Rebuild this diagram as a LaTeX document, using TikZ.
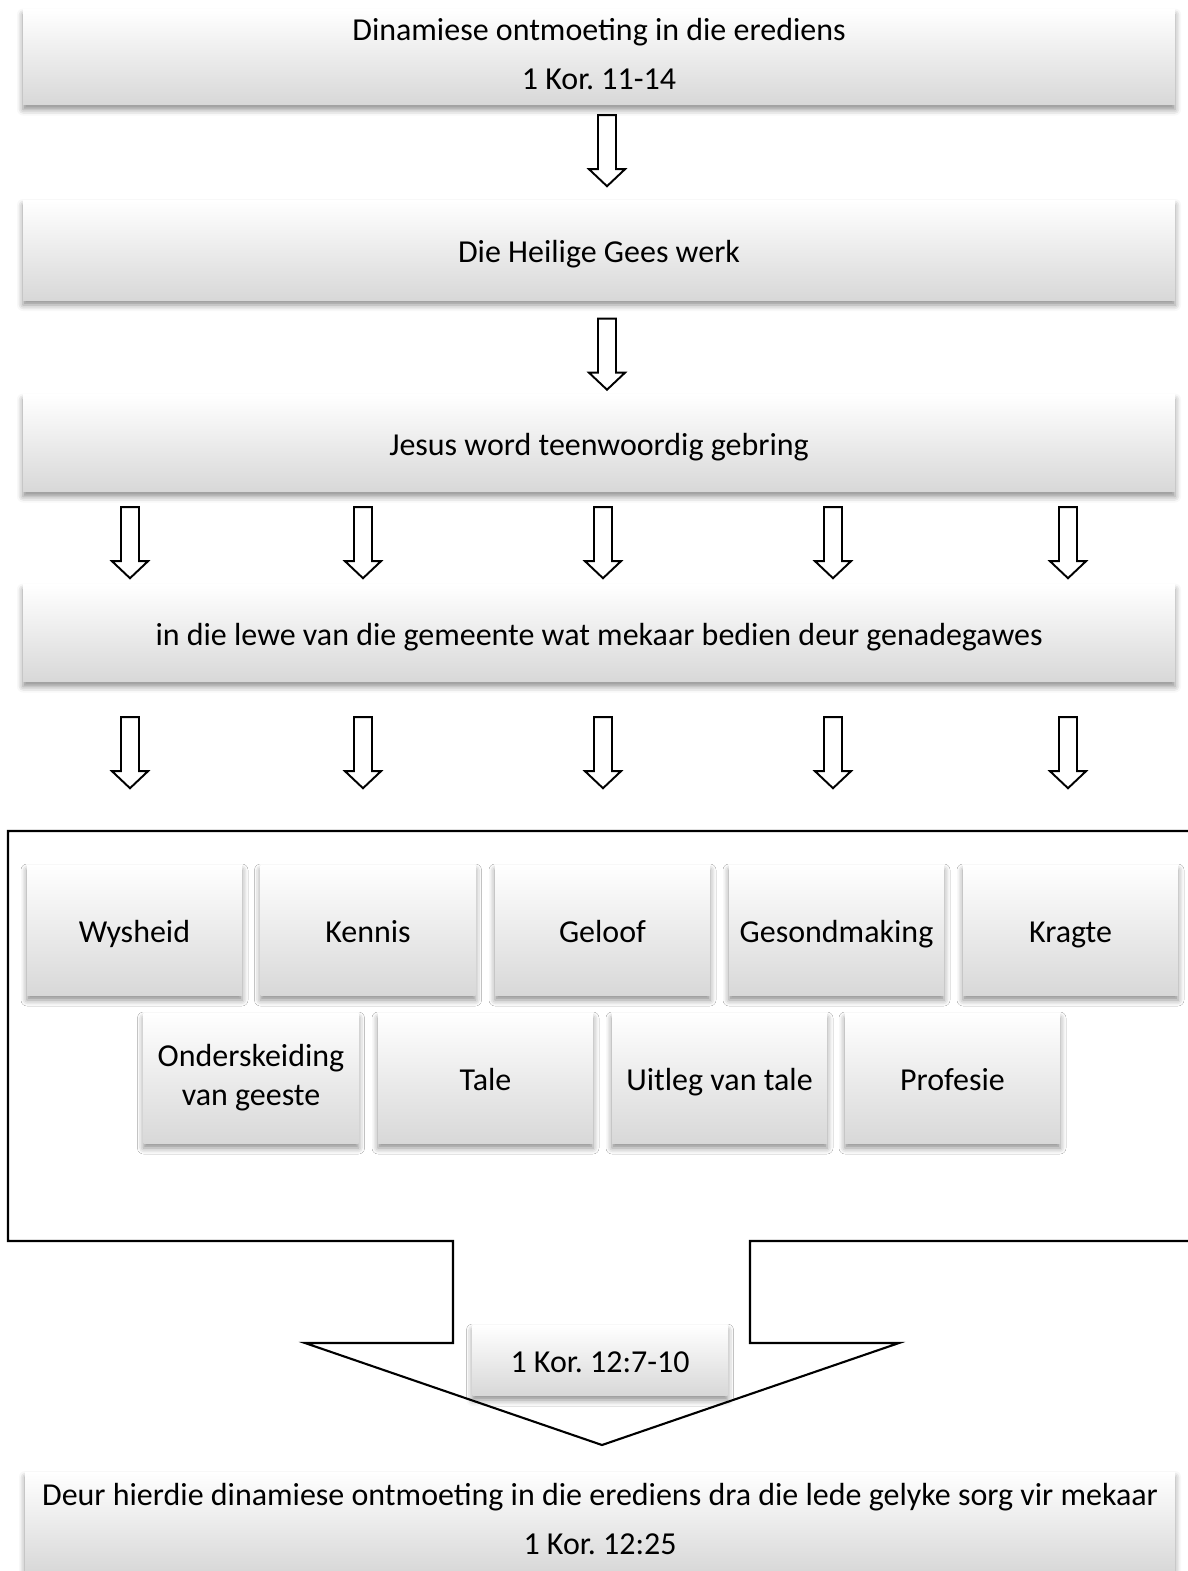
\documentclass[tikz,border=0pt]{standalone}
\usepackage{fontspec}
\setmainfont{Carlito}
\frenchspacing
\usetikzlibrary{calc,shadows.blur}
\definecolor{boxgray}{RGB}{216,216,216}
\newcommand\gstrut{\rule[-1.8pt]{0pt}{10.8pt}}

\tikzset{
  gbox/.style={rectangle,draw=none,top color=white,bottom color=boxgray,
    blur shadow={shadow xshift=0mm,shadow yshift=-0.5mm,shadow blur radius=0.6mm,shadow opacity=45},
    inner sep=0pt,align=center,font=\fontsize{9.1}{11}\selectfont,
    execute at begin node=\gstrut,execute at end node=\gstrut},
  hollowarrow/.pic={
    \draw[line width=0.55pt,fill=white] (-9,0) -- (9,0) -- (9,54) -- (18,54) -- (0,71) -- (-18,54) -- (-9,54) -- cycle;
  }
}

\begin{document}
\begin{tikzpicture}[x=0.1mm,y=-0.1mm]
        \useasboundingbox (0,0) rectangle (1188,1571);
        \node[gbox,minimum width=115.2mm,minimum height=9.5mm] (top) at (599,57) {Dinamiese ontmoeting in die erediens\\[1.0mm]1 Kor. 11-14};
        \node[gbox,minimum width=115.2mm,minimum height=10mm] (gees) at (599,250) {Die Heilige Gees werk};
        \node[gbox,minimum width=115.2mm,minimum height=9.7mm] (jesus) at (599,443) {Jesus word teenwoordig gebring};
        \node[gbox,minimum width=115.2mm,minimum height=9.7mm] (lewe) at (599,633) {in die lewe van die gemeente wat mekaar bedien deur genadegawes};
        \pic at ($(top.south)+(8,10)$) {hollowarrow};
        \pic at ($(gees.south)+(8,18)$) {hollowarrow};
        \foreach \dx in {-469,-236,4,234,469}{
          \pic at ($(jesus.south)+(\dx,15)$) {hollowarrow};
          \pic at ($(lewe.south)+(\dx,35)$) {hollowarrow};
        }
        \draw[line width=0.6pt,fill=white] (1200,831) -- (8,831) -- (8,1241) -- (453,1241) -- (453,1343) -- (305,1343) -- (602,1445) -- (899,1343) -- (750,1343) -- (750,1241) -- (1200,1241);
        \foreach \t/\x [count=\i] in {Wysheid/134.5,Kennis/368,Geloof/602.5,Gesondmaking/836.5,Kragte/1070.5}{
          \node[gbox,minimum width=21.5mm,minimum height=13mm] (g\i) at (\x,930) {\t};
        }
        \foreach \t/\x [count=\i from 6] in {Onderskeiding\\van geeste/251,Tale/485.5,Uitleg van tale/719.5,Profesie/952.5}{
          \node[gbox,minimum width=21.5mm,minimum height=13mm] (g\i) at (\x,1078) {\t};
        }
        \node[gbox,minimum width=25.5mm,minimum height=7mm] (ref) at (600,1360) {1 Kor. 12:7-10};
        \node[gbox,minimum width=115mm,minimum height=10mm] (final) at (600,1522) {Deur hierdie dinamiese ontmoeting in die erediens dra die lede gelyke sorg vir mekaar\\[1.0mm]1 Kor. 12:25};
      \end{tikzpicture}
\end{document}
